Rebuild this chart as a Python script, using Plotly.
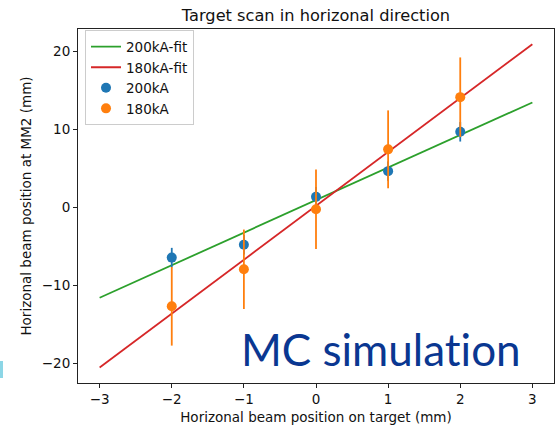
import plotly.graph_objects as go

# Target positions (mm) and measured beam positions at MM2 (mm)
target_x = [-2, -1, 0, 1, 2]
pos_200kA = [-6.45, -4.8, 1.35, 4.65, 9.7]
err_200kA = [1.25, 1.25, 1.25, 1.25, 1.25]
pos_180kA = [-12.7, -7.95, -0.25, 7.45, 14.15]
err_180kA = [5.05, 5.1, 5.1, 5.0, 5.1]

# Linear fit parameters (slope, intercept)
fit_x = [-3, 3]
fit_200kA = (4.18, 0.93)
fit_180kA = (6.92, 0.19)

C_BLUE, C_ORANGE, C_GREEN, C_RED = "#1f77b4", "#ff7f0e", "#2ca02c", "#d62728"

fig = go.Figure()
fig.add_trace(go.Scatter(
    x=fit_x, y=[fit_200kA[0] * v + fit_200kA[1] for v in fit_x],
    mode="lines", name="200kA-fit", line=dict(color=C_GREEN, width=1.8)))
fig.add_trace(go.Scatter(
    x=fit_x, y=[fit_180kA[0] * v + fit_180kA[1] for v in fit_x],
    mode="lines", name="180kA-fit", line=dict(color=C_RED, width=1.8)))
fig.add_trace(go.Scatter(
    x=target_x, y=pos_200kA, mode="markers", name="200kA",
    marker=dict(color=C_BLUE, size=10),
    error_y=dict(type="data", array=err_200kA, color=C_BLUE, thickness=1.8, width=0)))
fig.add_trace(go.Scatter(
    x=target_x, y=pos_180kA, mode="markers", name="180kA",
    marker=dict(color=C_ORANGE, size=10),
    error_y=dict(type="data", array=err_180kA, color=C_ORANGE, thickness=1.8, width=0)))

axis_common = dict(
    showgrid=False, zeroline=False, showline=True, mirror=True,
    linecolor="#222", linewidth=1, ticks="outside", ticklen=4,
    tickcolor="#222", tickfont=dict(size=13.5, color="#111"),
)

fig.update_layout(
    width=557, height=425,
    margin=dict(l=78, r=3, t=29, b=42),
    paper_bgcolor="white", plot_bgcolor="white",
    font=dict(family="DejaVu Sans", color="#111"),
    title=dict(text="Target scan in horizonal direction", x=(78 + 238) / 557,
               xanchor="center", y=1 - 15 / 425, yanchor="middle",
               font=dict(size=16.2, color="#111")),
    xaxis=dict(range=[-3.3, 3.3], tickvals=[-3, -2, -1, 0, 1, 2, 3],
               ticktext=["\u22123", "\u22122", "\u22121", "0", "1", "2", "3"],
               title=dict(text="Horizonal beam position on target (mm)",
                          font=dict(size=13.5), standoff=6),
               **axis_common),
    yaxis=dict(range=[-22.55, 22.9], tickvals=[-20, -10, 0, 10, 20],
               ticktext=["\u221220", "\u221210", "0", "10", "20"],
               title=dict(text="Horizonal beam position at MM2 (mm)",
                          font=dict(size=13.5), standoff=7),
               **axis_common),
    legend=dict(x=0.0147, y=0.996, xanchor="left", yanchor="top",
                bgcolor="rgba(255,255,255,0.8)", bordercolor="#cccccc",
                borderwidth=1, font=dict(size=13.5, color="#111"),
                itemwidth=30, tracegroupgap=0),
    showlegend=True,
)

fig.add_annotation(
    text="MC simulat\u200cion", xref="paper", yref="paper",
    x=(381 - 78) / 476, y=(383 - 377) / 354, xanchor="center", yanchor="bottom",
    showarrow=False, font=dict(family="Lato", size=44, color="#0a3791"))

fig.add_shape(type="rect", xref="paper", yref="paper",
              x0=-78 / 476, x1=-75 / 476, y0=(383 - 378) / 354, y1=(383 - 361) / 354,
              fillcolor="#8cd6e6", line=dict(width=0), layer="above")

fig.write_html("out.html")
